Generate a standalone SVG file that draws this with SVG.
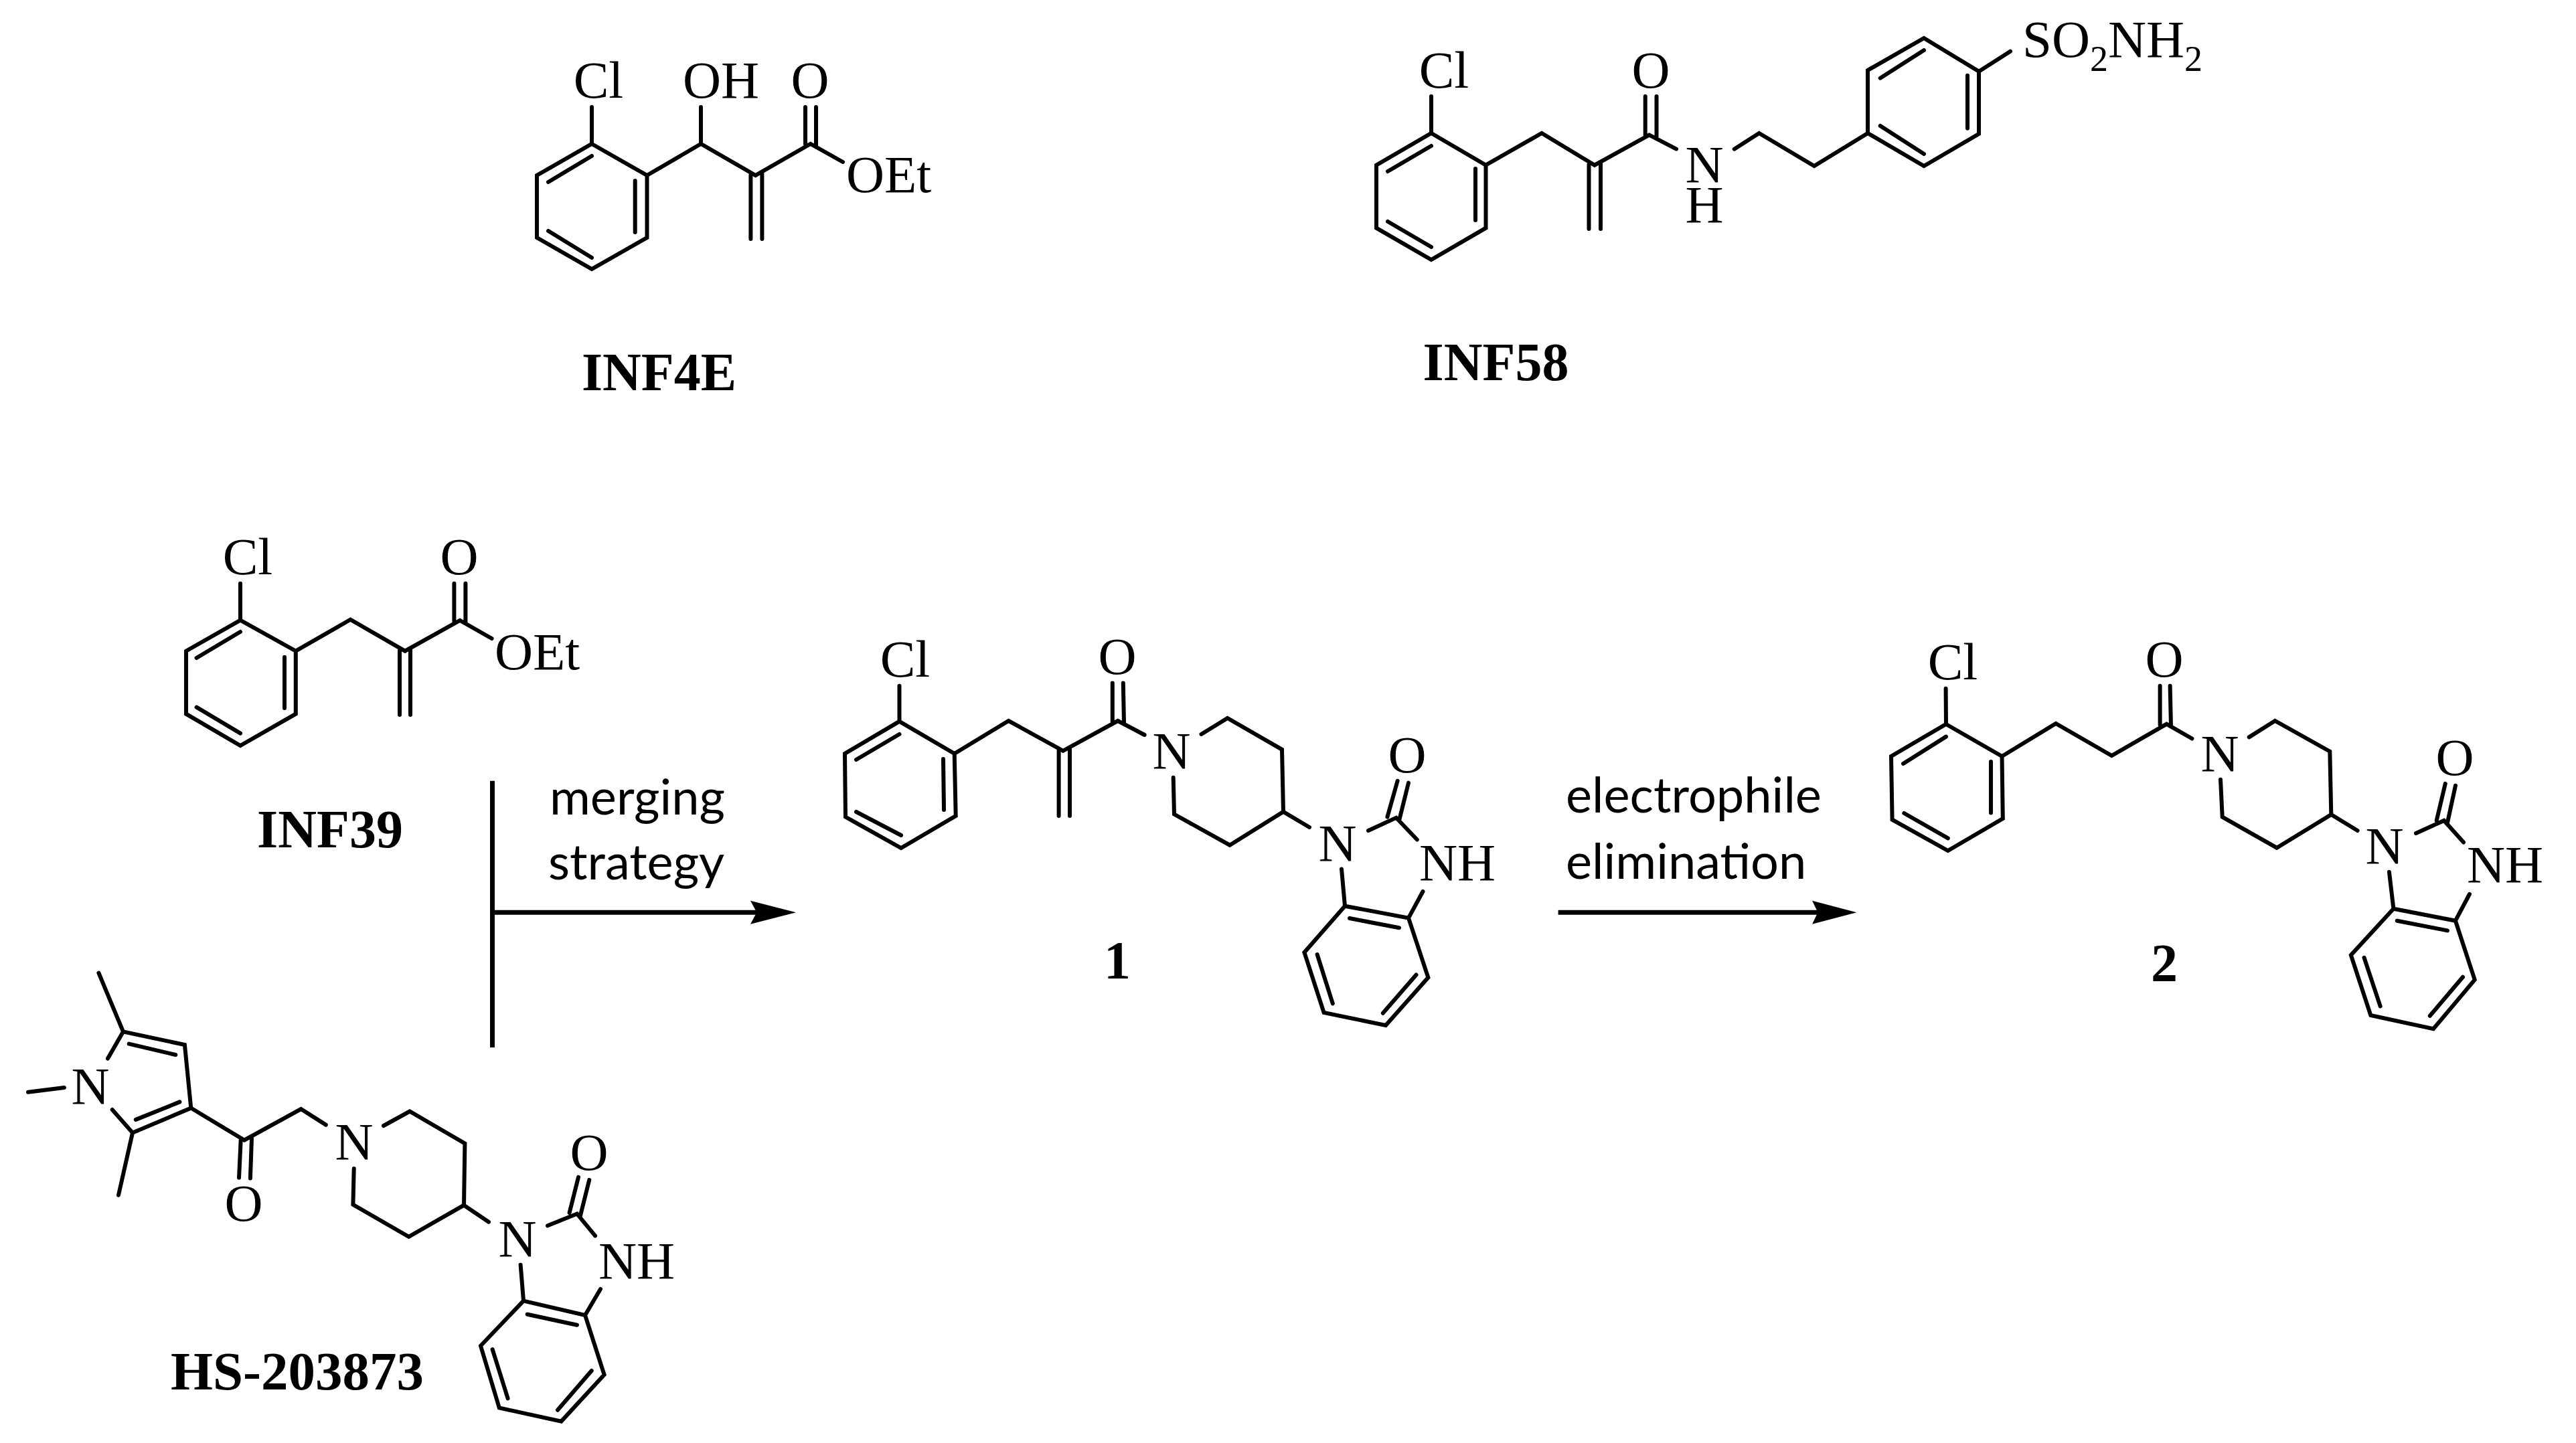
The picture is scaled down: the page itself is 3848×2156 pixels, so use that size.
<svg xmlns="http://www.w3.org/2000/svg" width="3848" height="2156" viewBox="0 0 3848 2156">
<style>
text{fill:#000}
.b{fill:none;stroke:#000;stroke-width:6;stroke-linecap:round;stroke-linejoin:miter}
.a{font-family:"Liberation Serif","Times New Roman",serif;font-size:79px;text-anchor:middle}
.s{text-anchor:start}
.l{font-family:"Liberation Serif","Times New Roman",serif;font-size:80px;font-weight:bold;text-anchor:middle}
.r{font-family:Lato,"Open Sans",sans-serif;font-size:74px}
.c{fill:none;stroke:#000;stroke-width:7}
.h{fill:#000;stroke:none}
</style>
<rect width="3848" height="2156" fill="#fff"/>
<g id="INF4E">
<path class="b" d="M884 215L966.5 262V355L884 402L802 355V262ZM884 160V215M966.5 262L1047 215L1128.6 262L1210.7 215L1259 242M1047 160V215M1203 160V215M1219 160V218M1121.4 262V357M1138.4 259V357M948.7 270V347M819 272L884 233M819 345L884 385"/>
<text class="a" x="894" y="146">Cl</text>
<text class="a" x="1077" y="146">OH</text>
<text class="a" x="1210" y="146">O</text>
<text class="a s" x="1264" y="287">OEt</text>
<text class="l" x="984.5" y="582.5">INF4E</text>
</g>
<g id="INF58">
<path class="b" d="M2138 199L2219.5 246.7V340.7L2138 388L2056 340.7V246.7ZM2138 144V199M2219.5 246.7L2303 199L2382 246.7L2463.6 201.7L2504 222.7M2457.7 144V202M2474.5 144V204M2373.5 246V342M2391 244V342M2204 252V329M2073 256L2138 218M2073 331L2138 369M2590.7 222.7L2627.7 199L2710 248L2790 199V105L2874 57L2956 106.7V200L2874 248L2790 199M2939 112.7V191.7M2808.7 116.7L2874 75M2808.7 188L2874 230M2956 106.7L3003 76.7"/>
<text class="a" x="2157" y="131">Cl</text>
<text class="a" x="2466" y="131">O</text>
<text class="a" x="2546" y="272">N</text>
<text class="a" x="2546" y="332">H</text>
<text class="a s" x="3021" y="85">SO<tspan font-size="54" dy="21">2</tspan><tspan dy="-21">NH</tspan><tspan font-size="54" dy="21">2</tspan></text>
<text class="l" x="2234.5" y="568">INF58</text>
</g>
<g id="INF39">
<path class="b" d="M359 926.7L441.8 972.7V1066.7L359 1114L278 1066.7V972.7ZM359 871.7V926.7M441.8 972.7L523.5 925.7L605 972.7L687 927L734.6 954M678.4 871.7V928M695.4 871.7V930M597 972V1068M613 970V1068M425 981.7V1058M293.6 983L359 944M293.6 1056.7L359 1095.7"/>
<text class="a" x="370" y="858">Cl</text>
<text class="a" x="686" y="858">O</text>
<text class="a s" x="739" y="1000">OEt</text>
<text class="l" x="493" y="1266">INF39</text>
</g>
<g id="HS-203873">
<path class="b" d="M147.4 1453.7L184 1541.4L275.9 1561L285.3 1655.5L198 1692.5L167.7 1658M161 1581.6L184 1541.4M192.7 1559.6L262.3 1576M202.8 1672.9L268.4 1646.4M42 1631.8L96 1625M198 1692.5L177 1785.7M285.3 1655.5L365 1703.5L449.6 1657L486.8 1680.6M357 1759.6L359.7 1703.5M373.9 1760.5L376 1701M573 1682L612 1660.5L694.4 1708.5L693 1800.7L610.6 1847.8L527.4 1799.8L528.7 1746M693 1800.7L730 1825.8M818 1831.3L862 1813.5L889 1846.4M850.6 1812L864 1758.7M866.8 1816.7L880.3 1762.8M897 1926L874 1965M777.6 1889.8L782 1943.6M782 1943.6L874 1965L902.6 2054L838.4 2123.6L745.8 2103.5L718 2010.8ZM787.7 1963.7L862 1979.7M883.7 2048L833 2106.7M758.6 2089.3L735.6 2016"/>
<text class="a" x="135" y="1649">N</text>
<text class="a" x="364" y="1824">O</text>
<text class="a" x="529" y="1732">N</text>
<text class="a" x="773" y="1877">N</text>
<text class="a" x="880" y="1748">O</text>
<text class="a s" x="894" y="1910">NH</text>
<text class="l" x="444" y="2076" font-size="81" style="font-size:81px">HS-203873</text>
</g>
<g id="compound-1">
<path class="b" d="M1343.5 1077.8L1425.7 1126L1427.7 1219L1346 1267L1263 1220.6L1262 1126ZM1343.5 1024.7V1077.8M1425.7 1126L1506.6 1077L1588 1121.8L1669.8 1077L1709.6 1098M1661.8 1020.6V1078M1677.8 1020.6L1679 1080M1581.6 1121V1219M1598 1119V1219M1409 1134L1410 1210M1279 1135L1343.5 1097M1279 1213L1346 1248M1794.5 1097L1833.6 1072.9L1915 1119.8L1917 1212.9L1837 1262.7L1754 1216.5L1752.7 1161.8M1917 1212.9L1956 1236M2044 1241L2085.6 1221.8L2116.8 1254.5M2072.4 1220.6L2087.6 1166.7M2090.3 1224.7L2104 1169.6M2125.5 1332L2104 1371.6M2004 1298.6L2009 1353.7M2009 1353.7L2104 1371.6L2133.4 1460.6L2070 1532L1977.6 1512.9L1948.4 1423ZM2016 1372L2090 1386.3M2115.5 1456.5L2065.8 1513.7M1990.8 1499.4L1967.6 1426"/>
<text class="a" x="1352" y="1011">Cl</text>
<text class="a" x="1669" y="1007">O</text>
<text class="a" x="1750" y="1148">N</text>
<text class="a" x="1998" y="1286">N</text>
<text class="a" x="2102" y="1154">O</text>
<text class="a s" x="2120" y="1315">NH</text>
<text class="l" x="1669" y="1462">1</text>
</g>
<g id="compound-2">
<path class="b" d="M2907 1082L2990.5 1130L2991.8 1223L2909.8 1271L2826.6 1224.7L2825 1130ZM2906.6 1028.8L2907 1082M2990.5 1130L3071 1081L3154.4 1129L3236.4 1081.8L3274.4 1103.5M3226.6 1024.7V1083M3241.6 1024.7L3243 1085M2974 1138V1214.5M2843 1141L2907 1100.6M2844.3 1215L2909.8 1252.4M3359.7 1101.4L3398.4 1077L3480.3 1122.7L3482.3 1217L3401 1266.7L3319.7 1220.6L3317 1164.7M3482.3 1217L3521.6 1241M3608.9 1245L3650.8 1226L3680 1258.6M3639.7 1226L3652.8 1170.8M3656 1229L3668 1173.7M3688.9 1336L3667.9 1375.7M3568.9 1302.7L3575.4 1357.8M3575.4 1357.8L3667.9 1375.7L3696.7 1463.9L3635 1537.3L3541.3 1517L3511.8 1427ZM3580.7 1375.7L3656 1390.4M3679 1459.8L3629.8 1517.8M3555.7 1503.5L3531.5 1430.8"/>
<text class="a" x="2917" y="1015">Cl</text>
<text class="a" x="3233" y="1011">O</text>
<text class="a" x="3316" y="1152">N</text>
<text class="a" x="3562" y="1290">N</text>
<text class="a" x="3667" y="1158">O</text>
<text class="a s" x="3685" y="1318">NH</text>
<text class="l" x="3233" y="1466">2</text>
</g>
<g id="connectors">
<path class="c" d="M735.5 1166.7V1565M735.5 1363.3H1132"/>
<path class="h" d="M1189 1363.3L1121 1345.7L1130.4 1363.3L1121 1380.7Z"/>
<path class="c" d="M2327.6 1363.3H2717"/>
<path class="h" d="M2773.4 1363.3L2707 1345.7L2715.5 1363.3L2707 1380.7Z"/>
</g>
<g id="labels">
<text class="r" x="821" y="1217">merging</text>
<text class="r" x="819" y="1314">strategy</text>
<text class="r" x="2339" y="1214">electrophile</text>
<text class="r" x="2339" y="1313">elimination</text>
</g>
</svg>
